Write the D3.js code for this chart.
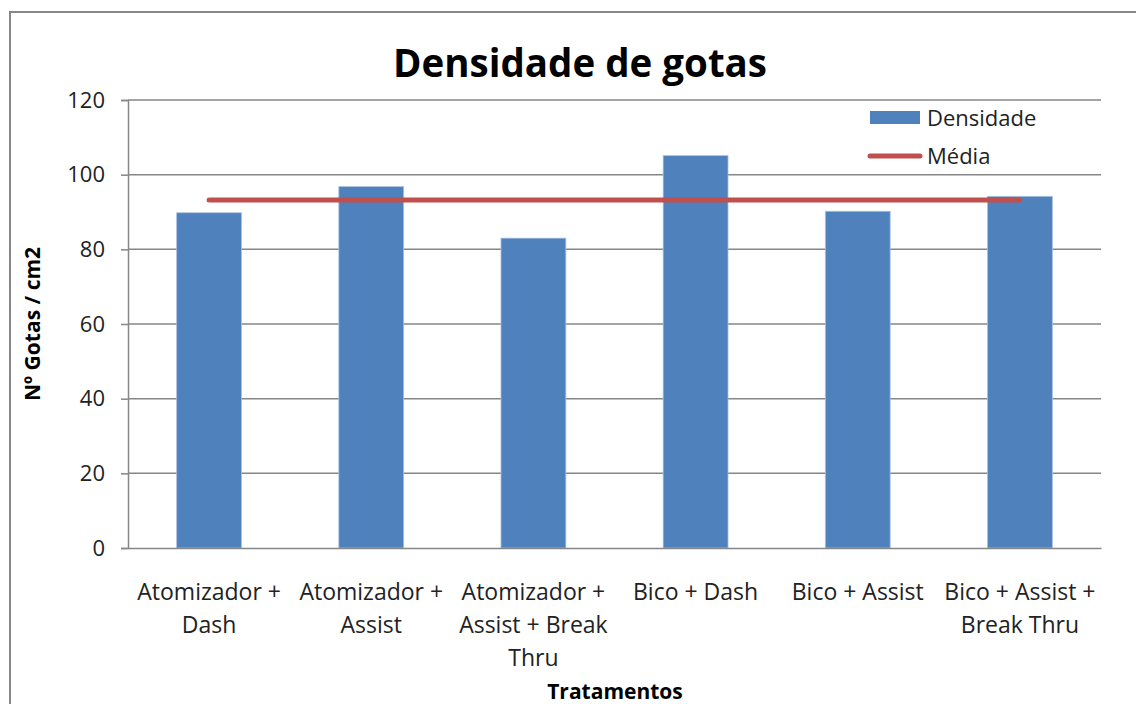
<!DOCTYPE html>
<html>
<head>
<meta charset="utf-8">
<script src="https://cdn.jsdelivr.net/npm/d3@7"></script>
<style>
  body { margin: 0; background: #fff; }
  svg { display: block; font-family: "Open Sans", "Noto Sans", sans-serif; }
</style>
</head>
<body>
<div id="chart"></div>
<script>
// data
var categories = ["Atomizador + Dash", "Atomizador + Assist", "Atomizador + Assist + Break Thru",
                  "Bico + Dash", "Bico + Assist", "Bico + Assist + Break Thru"];
var tickLines = [["Atomizador +", "Dash"], ["Atomizador +", "Assist"], ["Atomizador +", "Assist + Break", "Thru"],
                 ["Bico + Dash"], ["Bico + Assist"], ["Bico + Assist +", "Break Thru"]];
var densidade = [89.8, 96.8, 83.0, 105.1, 90.2, 94.2];
var media = [93.2, 93.2, 93.2, 93.2, 93.2, 93.2];
var yTicks = [0, 20, 40, 60, 80, 100, 120];

var svgWidth = 1136, svgHeight = 704;
var margin = {top: 100, right: 35, bottom: 156, left: 128};
var width = svgWidth - margin.left - margin.right;
var height = svgHeight - margin.top - margin.bottom;

var svg = d3.select("#chart").append("svg")
    .attr("width", svgWidth)
    .attr("height", svgHeight);

// outer chart frame (runs off the right and bottom edge)
svg.append("rect")
    .attr("x", 10).attr("y", 12)
    .attr("width", 1140).attr("height", 720)
    .attr("fill", "#fff")
    .attr("stroke", "#868686")
    .attr("stroke-width", 2);

var g = svg.append("g").attr("transform", `translate(${margin.left},${margin.top})`);

var x = d3.scaleBand().domain(categories).range([0, width]).paddingInner(0.6).paddingOuter(0.3);
var y = d3.scaleLinear().domain([0, 120]).range([height, 0]);

// gridlines
g.append("g")
    .selectAll("line")
    .data(yTicks.slice(1))
    .enter().append("line")
    .attr("x1", 0).attr("x2", width)
    .attr("y1", d => y(d)).attr("y2", d => y(d))
    .attr("stroke", "#868686").attr("stroke-width", 1.5);

// y axis
var yAxis = g.append("g")
    .call(d3.axisLeft(y).tickValues(yTicks).tickSize(7).tickPadding(16));
yAxis.select(".domain").attr("stroke", "#868686").attr("stroke-width", 1.5);
yAxis.selectAll(".tick line").attr("stroke", "#868686").attr("stroke-width", 1.5);
yAxis.selectAll("text").attr("font-size", 22).attr("fill", "#222").attr("font-family", "Open Sans");

// bars
g.selectAll(".bar")
    .data(densidade)
    .enter().append("rect")
    .attr("class", "bar")
    .attr("x", (d, i) => x(categories[i]))
    .attr("y", d => y(d))
    .attr("width", x.bandwidth())
    .attr("height", d => height - y(d))
    .attr("fill", "#4F81BD")
    .attr("stroke", "#a9c2e0")
    .attr("stroke-width", 0.8);

// x axis baseline
var xAxis = g.append("g")
    .attr("transform", `translate(0,${height})`)
    .call(d3.axisBottom(x).tickSize(0).tickFormat(""));
xAxis.select(".domain").attr("stroke", "#868686").attr("stroke-width", 1.5);

// category labels, broken as in the picture
var lab = g.append("g").selectAll("text")
    .data(categories)
    .enter().append("text")
    .attr("text-anchor", "middle")
    .attr("font-size", 23)
    .attr("fill", "#222")
    .attr("transform", d => `translate(${x(d) + x.bandwidth() / 2},${height + 52})`);
lab.selectAll("tspan")
    .data((d, i) => tickLines[i])
    .enter().append("tspan")
    .attr("x", 0)
    .attr("y", (d, j) => j * 33)
    .text(d => d);

// mean line
var line = d3.line()
    .x((d, i) => x(categories[i]) + x.bandwidth() / 2)
    .y(d => y(d));
g.append("path")
    .datum(media)
    .attr("d", line)
    .attr("fill", "none")
    .attr("stroke", "#C0504D")
    .attr("stroke-width", 5)
    .attr("stroke-linecap", "round");

// title
svg.append("text")
    .attr("x", 580).attr("y", 77)
    .attr("text-anchor", "middle")
    .attr("font-size", 38.5).attr("font-weight", "bold")
    .attr("fill", "#000")
    .text("Densidade de gotas");

// axis titles
svg.append("text")
    .attr("transform", "translate(40,324) rotate(-90)")
    .attr("text-anchor", "middle")
    .attr("font-size", 21).attr("font-weight", "bold")
    .attr("fill", "#000")
    .text("Nº Gotas / cm2");

svg.append("text")
    .attr("x", 615).attr("y", 699)
    .attr("text-anchor", "middle")
    .attr("font-size", 21).attr("font-weight", "bold")
    .attr("fill", "#000")
    .text("Tratamentos");

// legend
var legend = svg.append("g").attr("transform", "translate(870,0)");
legend.append("rect")
    .attr("x", 0).attr("y", 111).attr("width", 50).attr("height", 13)
    .attr("fill", "#4F81BD");
legend.append("text")
    .attr("x", 57).attr("y", 126)
    .attr("font-size", 22).attr("fill", "#222")
    .text("Densidade");
legend.append("line")
    .attr("x1", 0).attr("x2", 50).attr("y1", 156).attr("y2", 156)
    .attr("stroke", "#C0504D").attr("stroke-width", 5).attr("stroke-linecap", "round");
legend.append("text")
    .attr("x", 57).attr("y", 164)
    .attr("font-size", 22).attr("fill", "#222")
    .text("Média");
</script>
</body>
</html>
